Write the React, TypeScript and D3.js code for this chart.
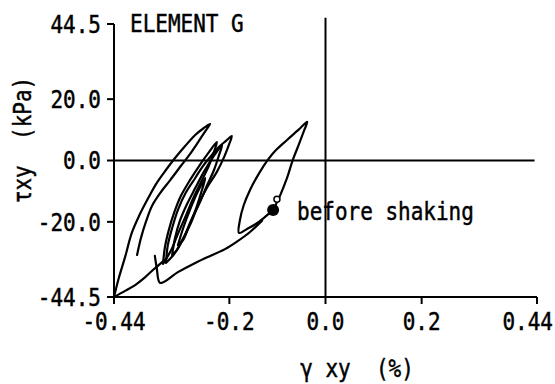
import React from "react";
import * as d3 from "d3";

// ---- data (gamma_xy in %, tau_xy in kPa) ----
const xTicks = [-0.44, -0.2, 0.0, 0.2, 0.44];
const xTickLabels = ["-0.44", "-0.2", "0.0", "0.2", "0.44"];
const yTicks = [44.5, 20.0, 0.0, -20.0, -44.5];
const yTickLabels = ["44.5", "20.0", "0.0", "-20.0", "-44.5"];

const rightLoop: [number, number][] = [
  [-0.109, -16.1], [-0.095, -11.6], [-0.080, -5.7], [-0.068, 0.2], [-0.055, 5.4],
  [-0.045, 9.6], [-0.038, 12.6], [-0.057, 9.9], [-0.080, 6.7], [-0.103, 3.4],
  [-0.120, 0.2], [-0.138, -4.1], [-0.157, -9.6], [-0.170, -14.5], [-0.178, -19.4],
  [-0.180, -23.6], [-0.163, -22.3], [-0.145, -20.7], [-0.128, -18.7], [-0.109, -16.1],
];
const descent: [number, number][] = [
  [-0.132, -19.6], [-0.157, -23.3], [-0.182, -26.2], [-0.209, -28.9], [-0.240, -31.1],
  [-0.271, -33.4], [-0.307, -36.4], [-0.344, -39.9], [-0.351, -35.1], [-0.355, -31.1],
];
const bottomCurve: [number, number][] = [
  [-0.440, -44.5], [-0.417, -42.5], [-0.396, -40.6], [-0.375, -38.0], [-0.359, -35.7],
  [-0.344, -33.7], [-0.332, -32.1],
];
const leftLoop: [number, number][] = [
  [-0.440, -44.5], [-0.430, -38.3], [-0.417, -31.5], [-0.403, -23.6], [-0.388, -18.1],
  [-0.371, -12.9], [-0.351, -7.3], [-0.332, -3.1], [-0.313, 0.8], [-0.292, 4.7],
  [-0.271, 8.3], [-0.253, 10.6], [-0.240, 11.9], [-0.250, 9.6], [-0.265, 6.0],
  [-0.282, 2.1], [-0.301, -1.8], [-0.323, -6.4], [-0.344, -10.6], [-0.361, -14.8],
  [-0.373, -19.7], [-0.384, -25.3], [-0.392, -30.8],
];
const midLoopA: [number, number][] = [
  [-0.332, -33.4], [-0.328, -27.6], [-0.319, -22.0], [-0.307, -16.1], [-0.290, -10.3],
  [-0.271, -5.7], [-0.255, -1.8], [-0.238, 1.5], [-0.222, 4.4], [-0.207, 6.4],
  [-0.195, 8.0], [-0.201, 5.1], [-0.211, 1.1], [-0.226, -3.7], [-0.246, -8.7],
  [-0.265, -14.5], [-0.280, -20.4], [-0.298, -25.9], [-0.315, -30.5], [-0.332, -33.4],
];
const midLoopB: [number, number][] = [
  [-0.338, -33.7], [-0.334, -28.2], [-0.326, -22.7], [-0.315, -17.1], [-0.301, -11.6],
  [-0.282, -6.4], [-0.263, -1.8], [-0.244, 2.4], [-0.226, 6.0], [-0.232, 2.8],
  [-0.242, -1.5], [-0.257, -6.4], [-0.274, -11.9], [-0.290, -17.8], [-0.307, -23.9],
  [-0.321, -29.2], [-0.338, -33.7],
];
const midLoopC: [number, number][] = [
  [-0.319, -30.8], [-0.313, -25.3], [-0.303, -19.7], [-0.288, -14.2], [-0.271, -9.0],
  [-0.253, -3.7], [-0.234, 1.1], [-0.215, 5.1], [-0.222, 1.5], [-0.232, -3.1],
  [-0.247, -8.3], [-0.263, -14.2], [-0.280, -19.7], [-0.294, -24.9], [-0.309, -29.2],
  [-0.319, -30.8],
];
const midLoopD: [number, number][] = [
  [-0.307, -27.6], [-0.296, -22.0], [-0.282, -16.1], [-0.267, -10.6], [-0.250, -5.7],
  [-0.257, -9.6], [-0.269, -15.5], [-0.284, -21.4], [-0.296, -25.9], [-0.307, -27.6],
];
const curves = [rightLoop, descent, bottomCurve, leftLoop, midLoopA, midLoopB, midLoopC, midLoopD];

const startPoint: [number, number] = [-0.109, -16.1];
const startMarkOpen: [number, number] = [-0.101, -12.6];
const startLabel = "before shaking";
const title = "ELEMENT G";
const xTitle = "\u03b3 xy  (%)";
const yTitle = "\u03c4xy  (kPa)";

// ---- layout ----
const W = 555;
const H = 384;
const FONT = "'DejaVu Sans Mono', monospace";
const FS = 21;
const SY = 1.15;

function T({ x, y, anchor = "start", children, rotate = 0 }: any) {
  return (
    <text
      transform={`translate(${x},${y}) rotate(${rotate}) scale(1,${SY})`}
      textAnchor={anchor}
      fontFamily={FONT}
      fontSize={FS}
      fill="#000"
      stroke="#000"
      strokeWidth={0.4}
      style={{ whiteSpace: "pre" }}
    >
      {children}
    </text>
  );
}

export default function App() {
  const x = d3.scaleLinear().domain([-0.44, 0.44]).range([114, 537]);
  const y = d3.scaleLinear().domain([-44.5, 44.5]).range([297, 24]);
  const line = d3
    .line<[number, number]>()
    .x((d) => x(d[0]))
    .y((d) => y(d[1]))
    .curve(d3.curveCatmullRom.alpha(0.5));

  const capHalf = 0.73 * FS * SY * 0.5;

  return (
    <svg width={W} height={H} style={{ position: "absolute", left: 0, top: 0, background: "#fff" }}>
      <rect width={W} height={H} fill="#fff" />
      {/* axes */}
      <g stroke="#000" strokeWidth={2} fill="none">
        <line x1={x(-0.44)} x2={x(-0.44)} y1={y(44.5)} y2={y(-44.5)} />
        <line x1={x(-0.44)} x2={x(0.44)} y1={y(-44.5)} y2={y(-44.5)} />
        {yTicks.map((t) => (
          <line key={"yt" + t} x1={x(-0.44) - 7} x2={x(-0.44)} y1={y(t)} y2={y(t)} />
        ))}
        {xTicks.map((t) => (
          <line key={"xt" + t} x1={x(t)} x2={x(t)} y1={y(-44.5)} y2={y(-44.5) + 7} />
        ))}
        {/* zero lines */}
        <line x1={x(-0.44)} x2={x(0.435)} y1={y(0)} y2={y(0)} />
        <line x1={x(0)} x2={x(0)} y1={y(46.5)} y2={y(-44.5)} />
      </g>
      {/* data */}
      <g stroke="#000" strokeWidth={2.2} fill="none" strokeLinejoin="round" strokeLinecap="round">
        {curves.map((c, i) => (
          <path key={i} d={line(c) || ""} />
        ))}
      </g>
      <circle cx={x(startPoint[0])} cy={y(startPoint[1])} r={6} fill="#000" />
      <circle cx={x(startMarkOpen[0])} cy={y(startMarkOpen[1])} r={3} fill="#fff" stroke="#000" strokeWidth={1.5} />
      {/* tick labels */}
      {yTicks.map((t, i) => (
        <T key={"yl" + t} x={x(-0.44) - 13} y={y(t) + capHalf} anchor="end">
          {yTickLabels[i]}
        </T>
      ))}
      {xTicks.map((t, i) => {
        const last = i === xTicks.length - 1;
        return (
          <T key={"xl" + t} x={last ? W - 2 : x(t)} y={330} anchor={last ? "end" : "middle"}>
            {xTickLabels[i]}
          </T>
        );
      })}
      <T x={130} y={32}>{title}</T>
      <T x={297} y={220}>{startLabel}</T>
      <T x={357} y={377} anchor="middle">{xTitle}</T>
      <T x={31} y={140} anchor="middle" rotate={-90}>{yTitle}</T>
    </svg>
  );
}
